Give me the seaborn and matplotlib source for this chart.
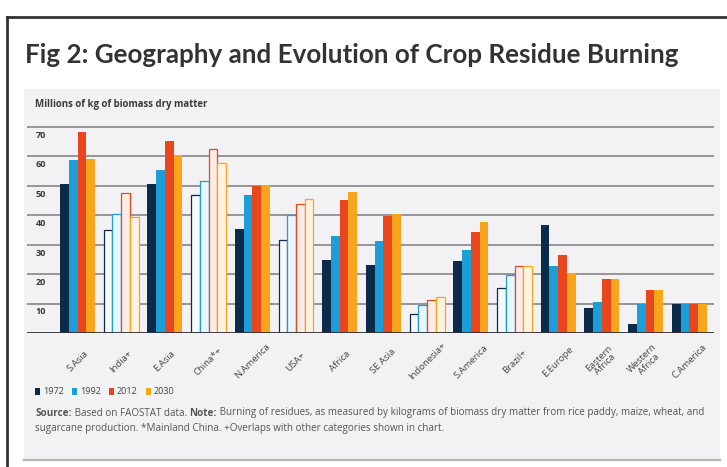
import numpy as np
import pandas as pd
import seaborn as sns
import matplotlib.pyplot as plt
from matplotlib.patches import Rectangle, Patch
from matplotlib.lines import Line2D
from matplotlib.transforms import blended_transform_factory

regions = ["S.Asia", "India+", "E.Asia", "China*+", "N.America", "USA+", "Africa",
           "SE Asia", "Indonesia+", "S.America", "Brazil+", "E.Europe",
           "Eastern\nAfrica", "Western\nAfrica", "C.America"]
years = ["1972", "1992", "2012", "2030"]
v1972 = [50.5, 35.1, 50.5, 46.8, 35.4, 31.5, 24.7, 23.0, 6.6, 24.5, 15.3, 36.6, 8.6, 3.2, 9.7]
v1992 = [58.7, 40.5, 55.5, 51.6, 46.8, 40.0, 32.8, 31.3, 9.4, 28.1, 19.6, 22.8, 10.5, 10.0, 9.7]
v2012 = [68.3, 47.6, 65.2, 62.6, 49.9, 43.9, 45.1, 39.6, 11.3, 34.3, 22.8, 26.6, 18.2, 14.5, 9.7]
v2030 = [59.2, 39.4, 60.6, 57.8, 50.4, 45.4, 47.9, 40.3, 12.2, 37.7, 22.8, 20.4, 18.2, 14.5, 10.0]
hollow = ["India+", "China*+", "USA+", "Indonesia+", "Brazil+"]
yticks = [10, 20, 30, 40, 50, 60, 70]

colors = ["#0c2a4a", "#1c9fd9", "#ea461e", "#f6a51c"]
pale = ["#f6f8fb", "#e6f6fc", "#fdebe5", "#fdf3e2"]

df = pd.DataFrame({
    "region": regions * 4,
    "year": np.repeat(years, len(regions)),
    "value": v1972 + v1992 + v2012 + v2030,
})

W, H = 727, 467
plt.rcParams["font.family"] = ["Open Sans", "DejaVu Sans"]
fig = plt.figure(figsize=(7.27, 4.67), dpi=100)
fig.patch.set_facecolor("white")

# frame + grey panel
fig.add_artist(Line2D([7 / W, 7 / W], [0, 1 - 17 / H], transform=fig.transFigure, color="#333333", lw=2))
fig.add_artist(Line2D([7 / W, 1], [1 - 17 / H, 1 - 17 / H], transform=fig.transFigure, color="#333333", lw=2))
fig.add_artist(Rectangle((24 / W, 1 - 460 / H), 696 / W, 371 / H, transform=fig.transFigure,
                         facecolor="#f2f2f5", edgecolor="none", zorder=0))
fig.add_artist(Line2D([24 / W, 720 / W], [1 - 460 / H, 1 - 460 / H], transform=fig.transFigure,
                      color="#b5b5b8", lw=1.6))

fig.text(25 / W, 1 - 63 / H, "Fig 2: Geography and Evolution of Crop Residue Burning",
         fontsize=18.7, weight="bold", color="#333333", va="baseline", family=["Lato", "DejaVu Sans"])
fig.text(35 / W, 1 - 104 / H, "Millions of kg of biomass dry matter", fontsize=6.9,
         weight="bold", color="#3a3a3a", va="center")

ax = fig.add_axes([27 / W, 1 - 333 / H, 687 / W, 207.5 / H])
ax.set_facecolor("none")
sns.barplot(data=df, x="region", y="value", hue="year", palette=colors, width=0.8,
            saturation=1, ax=ax, legend=False, zorder=3)

for c, cont in enumerate(ax.containers):
    for reg, bar in zip(regions, cont):
        bar.set_edgecolor("none")
        if reg in hollow:
            bar.set_facecolor(pale[c])
            bar.set_edgecolor(colors[c])
            bar.set_linewidth(0.9)

ax.set_xlim(-1.156, 14.565)
ax.set_ylim(0, 70.5)
ax.set_yticks(yticks)
ax.set_yticklabels([])
ax.yaxis.grid(True, color="#8e8e92", lw=1.3)
ax.set_axisbelow(True)
ax.axhline(0, color="#2e2e30", lw=2, zorder=5)
for s in ax.spines.values():
    s.set_visible(False)
ax.tick_params(left=False, bottom=False)
ax.set_xlabel("")
ax.set_ylabel("")

trans = blended_transform_factory(fig.transFigure, ax.transData)
for v in yticks:
    ax.text(36 / W, v - 1.3, str(v), transform=trans, fontsize=6.6, weight="bold",
            color="#3a3a3a", ha="left", va="top")

ax.set_xticks(range(len(regions)))
ax.set_xticklabels(regions, fontsize=6.8, color="#444444", rotation=45,
                   ha="center", va="center", rotation_mode="anchor", linespacing=1.0)
ax.tick_params(axis="x", pad=17)

handles = [Patch(facecolor=col, edgecolor="none") for col in colors]
fig.legend(handles, years, loc="center left", bbox_to_anchor=(31 / W, 1 - 392 / H),
           ncol=4, frameon=False, fontsize=6.5, handlelength=0.6, handleheight=0.9,
           handletextpad=0.3, columnspacing=0.9, borderaxespad=0, labelcolor="#444444")

fs = 7.1
t1 = fig.text(35 / W, 1 - 413 / H, "Source:", fontsize=fs, weight="bold", color="#555555", va="center")
p2 = ax.annotate(" Based on FAOSTAT data. ", xy=(1, 0), xycoords=t1, fontsize=fs,
                 color="#555555", va="bottom", ha="left", annotation_clip=False)
p3 = ax.annotate("Note:", xy=(1, 0), xycoords=p2, fontsize=fs, weight="bold",
                 color="#555555", va="bottom", ha="left", annotation_clip=False)
ax.annotate(" Burning of residues, as measured by kilograms of biomass dry matter from rice paddy, maize, wheat, and",
            xy=(1, 0), xycoords=p3, fontsize=fs, color="#555555", va="bottom", ha="left",
            annotation_clip=False)
fig.text(35 / W, 1 - 428 / H,
         "sugarcane production. *Mainland China. +Overlaps with other categories shown in chart.",
         fontsize=fs, color="#555555", va="center")

fig.savefig("out.png", dpi=100, facecolor="white")
